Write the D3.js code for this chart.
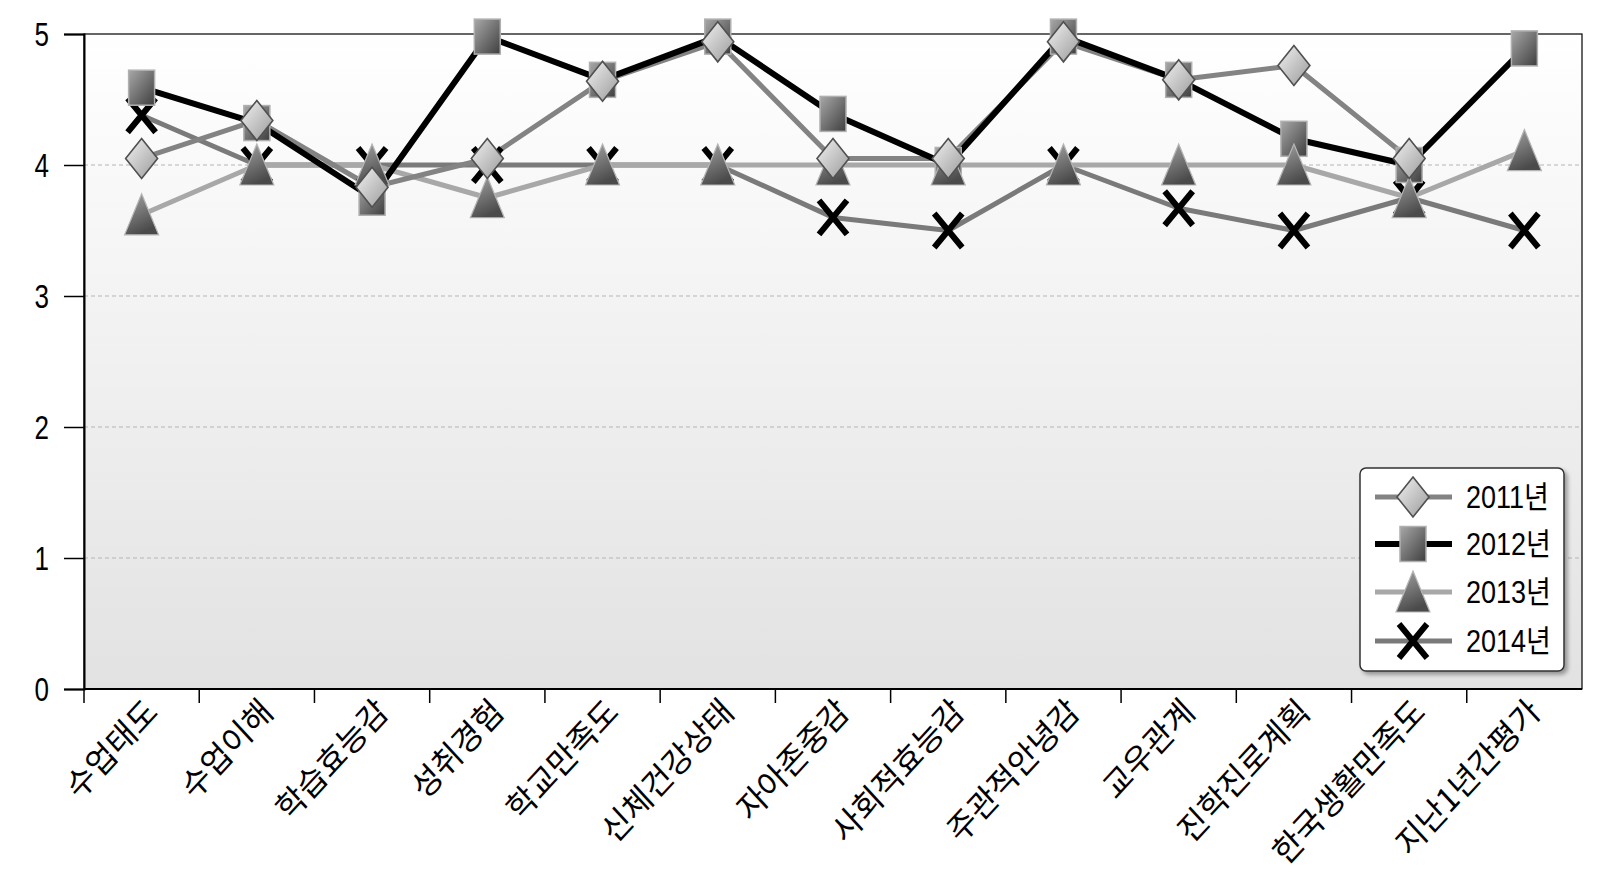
<!DOCTYPE html>
<html>
<head>
<meta charset="utf-8">
<script src="https://cdn.jsdelivr.net/npm/d3@7"></script>
<style>
  html, body { margin: 0; padding: 0; background: #ffffff; }
  svg { display: block; }
</style>
</head>
<body>
<svg id="chart" width="1606" height="886"></svg>
<script>
// ---------- DATA ----------
const categories = ["수업태도", "수업이해", "학습효능감", "성취경험", "학교만족도", "신체건강상태",
  "자아존중감", "사회적효능감", "주관적안녕감", "교우관계", "진학진로계획", "한국생활만족도", "지난1년간평가"];
const seriesNames = ["2011년", "2012년", "2013년", "2014년"];
const values2011 = [4.05, 4.34, 3.83, 4.05, 4.64, 4.94, 4.05, 4.05, 4.94, 4.65, 4.76, 4.05, null];
const values2012 = [4.59, 4.32, 3.75, 4.98, 4.65, 4.98, 4.39, 4.00, 4.98, 4.65, 4.20, 4.00, 4.89];
const values2013 = [3.62, 4.00, 4.00, 3.75, 4.00, 4.00, 4.00, 4.00, 4.00, 4.00, 4.00, 3.75, 4.11];
const values2014 = [4.38, 4.00, 4.00, 4.00, 4.00, 4.00, 3.60, 3.50, 4.00, 3.67, 3.50, 3.75, 3.50];
const yTicks = [0, 1, 2, 3, 4, 5];

// ---------- LAYOUT ----------
const svg = d3.select("#chart");
const L = 84, R = 1582, T = 34, B = 689;
const x = d3.scaleBand().domain(categories).range([L, R]).padding(0);
const y = d3.scaleLinear().domain([0, 5]).range([B, T]);
const cx = c => x(c) + x.bandwidth() / 2;

const defs = svg.append("defs");
const bg = defs.append("linearGradient").attr("id", "bg").attr("x1", 0).attr("y1", 0).attr("x2", 0).attr("y2", 1);
bg.append("stop").attr("offset", "0%").attr("stop-color", "#ffffff");
bg.append("stop").attr("offset", "100%").attr("stop-color", "#e2e2e2");

function grad(id, c1, c2, x2, y2) {
  const g = defs.append("linearGradient").attr("id", id).attr("x1", 0).attr("y1", 0).attr("x2", x2).attr("y2", y2);
  g.append("stop").attr("offset", "0%").attr("stop-color", c1);
  g.append("stop").attr("offset", "100%").attr("stop-color", c2);
}
grad("gDiamond", "#f2f2f2", "#9a9a9a", 1, 1);
grad("gSquare", "#a8a8a8", "#3e3e3e", 1, 1);
grad("gTri", "#a5a5a5", "#4a4a4a", 0.4, 1);

const shadow = defs.append("filter").attr("id", "shadow").attr("x", "-10%").attr("y", "-10%").attr("width", "130%").attr("height", "130%");
shadow.append("feGaussianBlur").attr("in", "SourceAlpha").attr("stdDeviation", 2);
shadow.append("feOffset").attr("dx", 3).attr("dy", 3).attr("result", "ob");
shadow.append("feComponentTransfer").append("feFuncA").attr("type", "linear").attr("slope", 0.35);
const merge = shadow.append("feMerge");
merge.append("feMergeNode");
merge.append("feMergeNode").attr("in", "SourceGraphic");

// plot background
svg.append("rect").attr("x", L).attr("y", T).attr("width", R - L).attr("height", B - T).attr("fill", "url(#bg)");

// gridlines
svg.append("g").selectAll("line").data(yTicks.filter(t => t > 0 && t < 5)).join("line")
  .attr("x1", L).attr("x2", R).attr("y1", d => y(d)).attr("y2", d => y(d))
  .attr("stroke", "#b5b5b5").attr("stroke-width", 1).attr("stroke-dasharray", "4,3");

// border
svg.append("rect").attr("x", L).attr("y", T).attr("width", R - L).attr("height", B - T)
  .attr("fill", "none").attr("stroke", "#000").attr("stroke-width", 1.2);

// y axis
const yAxis = d3.axisLeft(y).tickValues(yTicks).tickSize(20).tickPadding(0).tickFormat(d3.format("d"));
const yg = svg.append("g").attr("transform", `translate(${L},0)`).call(yAxis);
yg.select(".domain").attr("stroke", "#000").attr("stroke-width", 2);
yg.selectAll(".tick line").attr("stroke", "#000").attr("stroke-width", 1.5);
yg.selectAll(".tick text").remove();
yg.selectAll(".tick").append("text")
  .attr("transform", "translate(-35,0) scale(1,1.25)")
  .attr("text-anchor", "end").attr("dy", "0.36em")
  .attr("fill", "#000").attr("font-family", "Liberation Sans, Arial, sans-serif").attr("font-size", 26)
  .text(d => d);

// x axis: ticks at band boundaries
const xg = svg.append("g");
xg.append("line").attr("x1", L).attr("x2", R).attr("y1", B).attr("y2", B).attr("stroke", "#000").attr("stroke-width", 2);
xg.selectAll("line.tk").data(categories).join("line").attr("class", "tk")
  .attr("x1", d => x(d)).attr("x2", d => x(d)).attr("y1", B).attr("y2", B + 14)
  .attr("stroke", "#000").attr("stroke-width", 1.5);
xg.selectAll("text").data(categories).join("text")
  .attr("transform", d => `translate(${cx(d) + 18},${B + 25}) scale(1,1.08) rotate(-45)`)
  .attr("text-anchor", "end")
  .attr("font-family", "Noto Sans CJK KR, sans-serif").attr("font-size", 31).attr("fill", "#000")
  .text(d => d);

// ---------- SERIES ----------
const series = [
  { name: seriesNames[0], values: values2011, color: "#838383", width: 5, marker: "diamond" },
  { name: seriesNames[1], values: values2012, color: "#000000", width: 6, marker: "square" },
  { name: seriesNames[2], values: values2013, color: "#a8a8a8", width: 5, marker: "triangle" },
  { name: seriesNames[3], values: values2014, color: "#7a7a7a", width: 5, marker: "x" }
];

const line = d3.line().defined(d => d.v != null).x(d => cx(d.c)).y(d => y(d.v));
const lineOrder = [3, 2, 0, 1];
const lg = svg.append("g");
lineOrder.forEach(i => {
  const s = series[i];
  lg.append("path").datum(categories.map((c, j) => ({ c, v: s.values[j] })))
    .attr("d", line).attr("fill", "none").attr("stroke", s.color).attr("stroke-width", s.width)
    .attr("stroke-linejoin", "round");
});

function drawMarker(g, type, px, py) {
  if (type === "diamond") {
    g.append("path").attr("d", `M${px},${py - 20} L${px + 16},${py} L${px},${py + 20} L${px - 16},${py} Z`)
      .attr("fill", "url(#gDiamond)").attr("stroke", "#505050").attr("stroke-width", 1.6);
  } else if (type === "square") {
    g.append("rect").attr("x", px - 13).attr("y", py - 17.5).attr("width", 26).attr("height", 35)
      .attr("fill", "url(#gSquare)").attr("stroke", "#b0b0b0").attr("stroke-width", 1.5);
  } else if (type === "triangle") {
    g.append("path").attr("d", `M${px},${py - 21} L${px + 17},${py + 20} L${px - 17},${py + 20} Z`)
      .attr("fill", "url(#gTri)").attr("stroke", "#b5b5b5").attr("stroke-width", 1.2);
  } else {
    g.append("path").attr("d", `M${px - 14},${py - 17} L${px + 14},${py + 17} M${px + 14},${py - 17} L${px - 14},${py + 17}`)
      .attr("stroke", "#000").attr("stroke-width", 6).attr("fill", "none");
  }
}

const mg = svg.append("g");
[3, 1, 2, 0].forEach(i => {
  const s = series[i];
  const g = mg.append("g");
  categories.forEach((c, j) => {
    if (s.values[j] != null) drawMarker(g, s.marker, cx(c), y(s.values[j]));
  });
});

// ---------- LEGEND ----------
const leg = svg.append("g");
leg.append("rect").attr("x", 1360).attr("y", 468).attr("width", 204).attr("height", 203).attr("rx", 6)
  .attr("fill", "#ffffff").attr("stroke", "#333").attr("stroke-width", 1.5).attr("filter", "url(#shadow)");
const legY = [497, 544, 592, 641];
series.forEach((s, i) => {
  const gy = legY[i];
  leg.append("line").attr("x1", 1375).attr("x2", 1452).attr("y1", gy).attr("y2", gy)
    .attr("stroke", s.color).attr("stroke-width", s.width);
  drawMarker(leg, s.marker, 1413, gy);
  leg.append("text").attr("transform", `translate(1466,${gy}) scale(1,1.15)`)
    .attr("dy", "0.36em").attr("font-family", "Liberation Sans, Noto Sans CJK KR, sans-serif")
    .attr("font-size", 27).attr("fill", "#000").text(s.name);
});
</script>
</body>
</html>
